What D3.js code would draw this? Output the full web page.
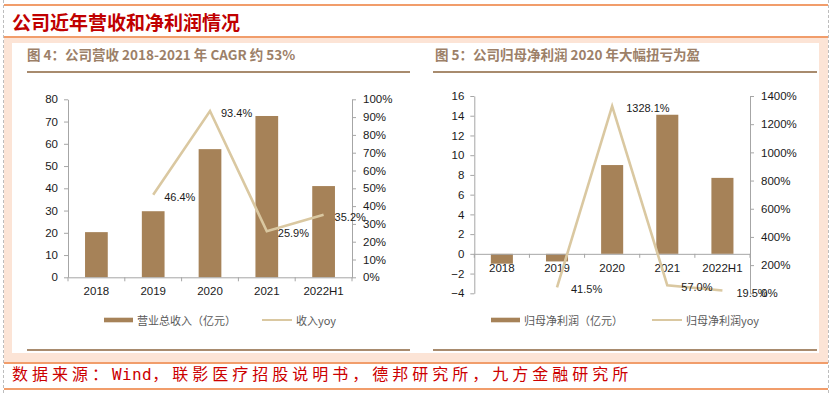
<!DOCTYPE html>
<html>
<head>
<meta charset="utf-8">
<script src="https://cdn.jsdelivr.net/npm/d3@7"></script>
<style>
  body { margin: 0; background: #fff; }
  svg { display: block; font-family: "Liberation Sans", Arial, sans-serif; }
</style>
</head>
<body>
<svg id="chart" width="831" height="393"></svg>
<script>
// ---- data ----
var years = ['2018', '2019', '2020', '2021', '2022H1'];
var revenue = [20.3, 29.7, 57.6, 72.5, 41.0];          // 营业总收入（亿元）
var revenueYoy = [null, 46.4, 93.4, 25.9, 35.2];       // 收入yoy (%)
var netProfit = [-1.0, -0.77, 9.0, 14.1, 7.7];         // 归母净利润（亿元）
var profitYoy = [null, 41.5, 1328.1, 57.0, 19.5];      // 归母净利润yoy (%)

var revTicks = [0, 10, 20, 30, 40, 50, 60, 70, 80];
var revYoyTicks = [0, 10, 20, 30, 40, 50, 60, 70, 80, 90, 100];
var profitTicks = [-4, -2, 0, 2, 4, 6, 8, 10, 12, 14, 16];
var profitYoyTicks = [0, 200, 400, 600, 800, 1000, 1200, 1400];

// colours
var barColor = '#a68258';
var lineColor = '#dac8a1';
var orange = '#ec7c3a';
var peach = '#fce4d6';
var ruleColor = '#a88b6e';
var axisColor = '#a6a6a6';
var cjk = '"Noto Sans CJK SC", sans-serif';

var svg = d3.select('#chart');

// ---- page frame ----
svg.append('rect').attr('width', 831).attr('height', 393).attr('fill', '#fff');
[3.5, 828.5].forEach(function (xx) {
  svg.append('line').attr('x1', xx).attr('x2', xx).attr('y1', 0).attr('y2', 393)
    .attr('stroke', '#bdbdbd').attr('stroke-dasharray', '3,2');
});
svg.append('rect').attr('x', 4).attr('y', 38).attr('width', 824).attr('height', 324).attr('fill', peach);
svg.append('rect').attr('x', 12).attr('y', 43).attr('width', 807).attr('height', 310).attr('fill', '#fff');
[5, 37, 363, 389].forEach(function (yy) {
  svg.append('line').attr('x1', 4).attr('x2', 828).attr('y1', yy).attr('y2', yy)
    .attr('stroke', orange).attr('stroke-width', 1.5);
});

svg.append('text')
  .attr('x', 12).attr('y', 30)
  .attr('font-family', cjk).attr('font-weight', 700).attr('font-size', 19)
  .attr('fill', '#c00000')
  .text('公司近年营收和净利润情况');

// source line
var src = svg.append('text').attr('x', 12).attr('y', 380)
  .attr('font-size', 16).attr('fill', '#cc0000');
src.append('tspan').attr('font-family', cjk).attr('letter-spacing', 4).text('数据来源：');
src.append('tspan').attr('font-family', '"DejaVu Sans Mono", monospace').attr('letter-spacing', 0.4).text('Wind');
src.append('tspan').attr('font-family', cjk).attr('letter-spacing', 4)
  .text('，联影医疗招股说明书，德邦研究所，九方金融研究所');

// ---- one chart panel ----
function drawPanel(p) {
  var g = svg.append('g');

  // subtitle and rules
  g.append('text')
    .attr('x', p.titleX).attr('y', 60)
    .attr('font-family', cjk).attr('font-weight', 700).attr('font-size', 13.5)
    .attr('fill', '#9c8068')
    .text(p.title);
  [72, 350].forEach(function (yy) {
    g.append('line').attr('x1', p.ruleX[0]).attr('x2', p.ruleX[1]).attr('y1', yy).attr('y2', yy)
      .attr('stroke', ruleColor).attr('stroke-width', 2);
  });

  var x = d3.scaleBand().domain(years).range([p.left, p.right])
    .paddingInner(0.6).paddingOuter(0.3);
  var y = d3.scaleLinear().domain(p.yDomain).range([p.bottom, p.top]);
  var y2 = d3.scaleLinear().domain(p.y2Domain).range([p.bottom, p.top]);

  // bars
  g.append('g').selectAll('rect')
    .data(p.bars)
    .join('rect')
    .attr('x', function (d, i) { return x(years[i]); })
    .attr('width', x.bandwidth())
    .attr('y', function (d) { return y(Math.max(0, d)); })
    .attr('height', function (d) { return Math.abs(y(d) - y(0)); })
    .attr('fill', barColor);

  // left axis
  var ax = g.append('g').attr('transform', 'translate(' + p.left + ',0)')
    .call(d3.axisLeft(y).tickValues(p.yTicks).tickSize(4).tickSizeOuter(0).tickPadding(6));
  // right axis
  var ax2 = g.append('g').attr('transform', 'translate(' + p.right + ',0)')
    .call(d3.axisRight(y2).tickValues(p.y2Ticks).tickSize(4).tickSizeOuter(0).tickPadding(7)
      .tickFormat(function (d) { return d + '%'; }));

  // category axis sitting on zero
  var y0 = y(0);
  var axX = g.append('g').attr('transform', 'translate(0,' + y0 + ')')
    .call(d3.axisBottom(x).tickSize(0).tickSizeOuter(0).tickPadding(10));
  d3.range(years.length + 1).forEach(function (i) {
    var bx = p.left + i * x.step();
    axX.append('line').attr('x1', bx).attr('x2', bx).attr('y1', 0).attr('y2', 4)
      .attr('stroke', axisColor);
  });

  [ax, ax2, axX].forEach(function (a) {
    a.select('.domain').attr('stroke', axisColor);
    a.selectAll('.tick line').attr('stroke', axisColor);
    a.selectAll('text').attr('font-size', 11.5).attr('fill', '#1a1a1a')
      .attr('font-family', '"Liberation Sans", Arial, sans-serif');
  });

  // yoy line
  var pts = p.yoy.map(function (v, i) { return { v: v, k: years[i] }; })
    .filter(function (d) { return d.v !== null; });
  var line = d3.line()
    .x(function (d) { return x(d.k) + x.bandwidth() / 2; })
    .y(function (d) { return y2(d.v); });
  g.append('path').datum(pts)
    .attr('d', line)
    .attr('fill', 'none')
    .attr('stroke', lineColor)
    .attr('stroke-width', 2.6);

  g.append('g').selectAll('text')
    .data(pts)
    .join('text')
    .attr('x', function (d) { return x(d.k) + x.bandwidth() / 2 + p.labelDx; })
    .attr('y', function (d) { return y2(d.v) + 2; })
    .attr('dominant-baseline', 'central')
    .attr('font-size', 11)
    .attr('fill', '#1a1a1a')
    .text(function (d) { return d.v.toFixed(1) + '%'; });

  // legend
  var lg = g.append('g').attr('transform', 'translate(0,320)');
  lg.append('rect').attr('x', p.legendX[0]).attr('y', -2.3).attr('width', 29).attr('height', 4.6)
    .attr('fill', barColor);
  lg.append('text').attr('x', p.legendX[0] + 33).attr('y', 0).attr('dominant-baseline', 'central')
    .attr('font-family', cjk).attr('font-size', 11).attr('fill', '#595959')
    .text(p.barName);
  lg.append('line').attr('x1', p.legendX[1]).attr('x2', p.legendX[1] + 30).attr('y1', 0).attr('y2', 0)
    .attr('stroke', lineColor).attr('stroke-width', 2);
  lg.append('text').attr('x', p.legendX[1] + 34).attr('y', 0).attr('dominant-baseline', 'central')
    .attr('font-family', cjk).attr('font-size', 11).attr('fill', '#595959')
    .text(p.lineName);
}

drawPanel({
  title: '图 4：公司营收 2018-2021 年 CAGR 约 53%',
  titleX: 27, ruleX: [27, 410],
  left: 68, right: 352, top: 99.3, bottom: 277.3,
  yDomain: [0, 80], y2Domain: [0, 100],
  yTicks: revTicks, y2Ticks: revYoyTicks,
  bars: revenue, yoy: revenueYoy, labelDx: 11,
  legendX: [104, 262],
  barName: '营业总收入（亿元）', lineName: '收入yoy'
});

drawPanel({
  title: '图 5：公司归母净利润 2020 年大幅扭亏为盈',
  titleX: 435, ruleX: [433, 817],
  left: 474.3, right: 750, top: 96, bottom: 293.3,
  yDomain: [-4, 16], y2Domain: [0, 1400],
  yTicks: profitTicks, y2Ticks: profitYoyTicks,
  bars: netProfit, yoy: profitYoy, labelDx: 14,
  legendX: [491, 652],
  barName: '归母净利润（亿元）', lineName: '归母净利润yoy'
});
</script>
</body>
</html>
